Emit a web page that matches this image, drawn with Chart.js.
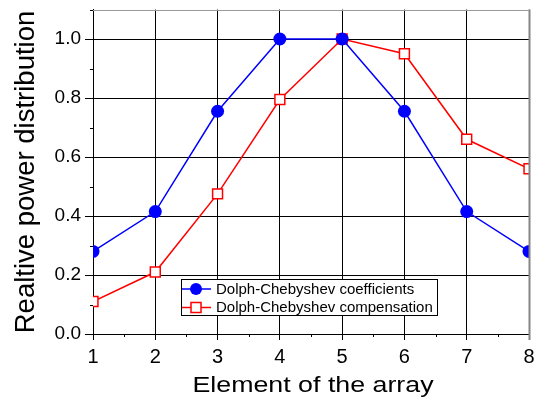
<!DOCTYPE html>
<html>
<head>
<meta charset="utf-8">
<script src="https://cdn.jsdelivr.net/npm/chart.js@4/dist/chart.umd.min.js"></script>
<style>
  html, body { margin: 0; padding: 0; background: #fff; }
  #chart { display: block; }
</style>
</head>
<body>
<canvas id="chart" width="538" height="402"></canvas>
<script>
// values
const elements = [1, 2, 3, 4, 5, 6, 7, 8];
const coefficients = [0.28, 0.415, 0.755, 1.0, 1.0, 0.755, 0.415, 0.28];
const compensation = [0.11, 0.21, 0.475, 0.795, 1.0, 0.95, 0.66, 0.56];
const seriesNames = ["Dolph-Chebyshev coefficients", "Dolph-Chebyshev compensation"];

const xTicks = [1, 2, 3, 4, 5, 6, 7, 8];
const xMinorTicks = [1.5, 2.5, 3.5, 4.5, 5.5, 6.5, 7.5];
const yTicks = [0, 0.2, 0.4, 0.6, 0.8, 1.0];
const yMinorTicks = [0.1, 0.3, 0.5, 0.7, 0.9, 1.1];
const xTitle = "Element of the array";
const yTitle = "Realtive power distribution";

const FONT = "'Liberation Sans', Arial, sans-serif";

// frame, minor ticks, legend box and axis titles
const decorations = {
  id: "decorations",
  afterDatasetsDraw(chart) {
    const { ctx, chartArea: a, scales } = chart;
    ctx.save();
    // minor ticks
    ctx.strokeStyle = "#000";
    ctx.lineWidth = 1;
    ctx.beginPath();
    yMinorTicks.forEach((v) => {
      const y = Math.round(scales.y.getPixelForValue(v)) + 0.5;
      ctx.moveTo(a.left - 3, y);
      ctx.lineTo(a.left, y);
    });
    xMinorTicks.forEach((v) => {
      const x = Math.round(scales.x.getPixelForValue(v)) + 0.5;
      ctx.moveTo(x, a.bottom);
      ctx.lineTo(x, a.bottom + 3);
    });
    ctx.stroke();

    // top and right frame lines are grey
    ctx.strokeStyle = "#9a9a9a";
    ctx.beginPath();
    ctx.moveTo(a.left, Math.round(a.top) + 0.5);
    ctx.lineTo(a.right, Math.round(a.top) + 0.5);
    ctx.stroke();
    ctx.strokeStyle = "#858585";
    ctx.lineWidth = 2;
    ctx.beginPath();
    ctx.moveTo(a.right + 0.5, a.top);
    ctx.lineTo(a.right + 0.5, a.bottom + 6);
    ctx.stroke();

    // legend
    const lx = 181, ly = 279, lw = 256, lh = 36;
    ctx.fillStyle = "#fff";
    ctx.fillRect(lx, ly, lw, lh);
    ctx.strokeStyle = "#000";
    ctx.lineWidth = 1;
    ctx.strokeRect(lx + 0.5, ly + 0.5, lw, lh);
    chart.data.datasets.forEach((ds, i) => {
      const cy = ly + 10 + i * 18.5;
      ctx.strokeStyle = ds.borderColor;
      ctx.lineWidth = 1.5;
      ctx.beginPath();
      ctx.moveTo(lx + 1, cy);
      ctx.lineTo(lx + 30, cy);
      ctx.stroke();
      if (ds.pointStyle === "rect") {
        ctx.fillStyle = "#fff";
        ctx.fillRect(lx + 10, cy - 5, 10, 10);
        ctx.strokeRect(lx + 10, cy - 5, 10, 10);
      } else {
        ctx.fillStyle = ds.pointBackgroundColor;
        ctx.beginPath();
        ctx.arc(lx + 15, cy, 6, 0, Math.PI * 2);
        ctx.fill();
      }
      ctx.fillStyle = "#000";
      ctx.font = "15px " + FONT;
      ctx.textBaseline = "middle";
      ctx.textAlign = "left";
      ctx.fillText(ds.label, lx + 35, cy + 0.5);
    });
    ctx.restore();
  },
  afterDraw(chart) {
    const { ctx, chartArea: a } = chart;
    ctx.save();
    ctx.fillStyle = "#000";
    ctx.textAlign = "center";
    ctx.textBaseline = "alphabetic";
    // x title (drawn a bit wider, like the reference)
    ctx.font = "22.5px " + FONT;
    ctx.translate((a.left + a.right) / 2 + 2, 392);
    ctx.scale(1.19, 1);
    ctx.fillText(xTitle, 0, 0);
    ctx.restore();
    ctx.save();
    ctx.fillStyle = "#000";
    ctx.textAlign = "center";
    ctx.textBaseline = "alphabetic";
    ctx.font = "27.5px " + FONT;
    ctx.translate(34, 172);
    ctx.rotate(-Math.PI / 2);
    ctx.fillText(yTitle, 0, 0);
    ctx.restore();
  }
};

new Chart(document.getElementById("chart"), {
  type: "line",
  data: {
    datasets: [
      {
        label: seriesNames[0],
        data: elements.map((x, i) => ({ x, y: coefficients[i] })),
        borderColor: "#0000ff",
        borderWidth: 1.5,
        pointStyle: "circle",
        pointRadius: 6.5,
        pointBorderWidth: 0,
        pointBackgroundColor: "#0000ff",
        clip: 0
      },
      {
        label: seriesNames[1],
        data: elements.map((x, i) => ({ x, y: compensation[i] })),
        borderColor: "#ff0000",
        borderWidth: 1.5,
        pointStyle: "rect",
        pointRadius: 7,
        pointBorderWidth: 1.5,
        pointBorderColor: "#ff0000",
        pointBackgroundColor: "#ffffff",
        clip: 0
      }
    ]
  },
  options: {
    responsive: false,
    animation: false,
    events: [],
    layout: { padding: { top: 9.5, right: 9, left: 0, bottom: 0 } },
    plugins: {
      legend: { display: false },
      tooltip: { enabled: false }
    },
    scales: {
      x: {
        type: "linear",
        min: 1,
        max: 8,
        afterBuildTicks: (s) => { s.ticks = xTicks.map((v) => ({ value: v })); },
        afterFit: (s) => {
          s.height = 68;
          s.paddingLeft = 0;
          s.paddingRight = 0;
        },
        ticks: {
          color: "#000",
          font: { family: FONT, size: 20 },
          padding: 5,
          maxRotation: 0,
          autoSkip: false,
          callback: (v) => String(v)
        },
        grid: {
          color: (c) => (c.tick && c.tick.value === 8 ? "#858585" : "#000"),
          lineWidth: 1,
          tickLength: 6
        },
        border: { color: "#000", width: 1 }
      },
      y: {
        min: 0,
        max: 1.1,
        afterBuildTicks: (s) => { s.ticks = yTicks.map((v) => ({ value: v })); },
        afterFit: (s) => {
          s.width = 93;
          s.paddingTop = 0;
          s.paddingBottom = 0;
        },
        ticks: {
          color: "#000",
          font: { family: FONT, size: 19 },
          padding: 4,
          callback: (v) => v.toFixed(1)
        },
        grid: { color: "#000", lineWidth: 1, tickLength: 8 },
        border: { color: "#000", width: 1 }
      }
    }
  },
  plugins: [decorations]
});
</script>
</body>
</html>
